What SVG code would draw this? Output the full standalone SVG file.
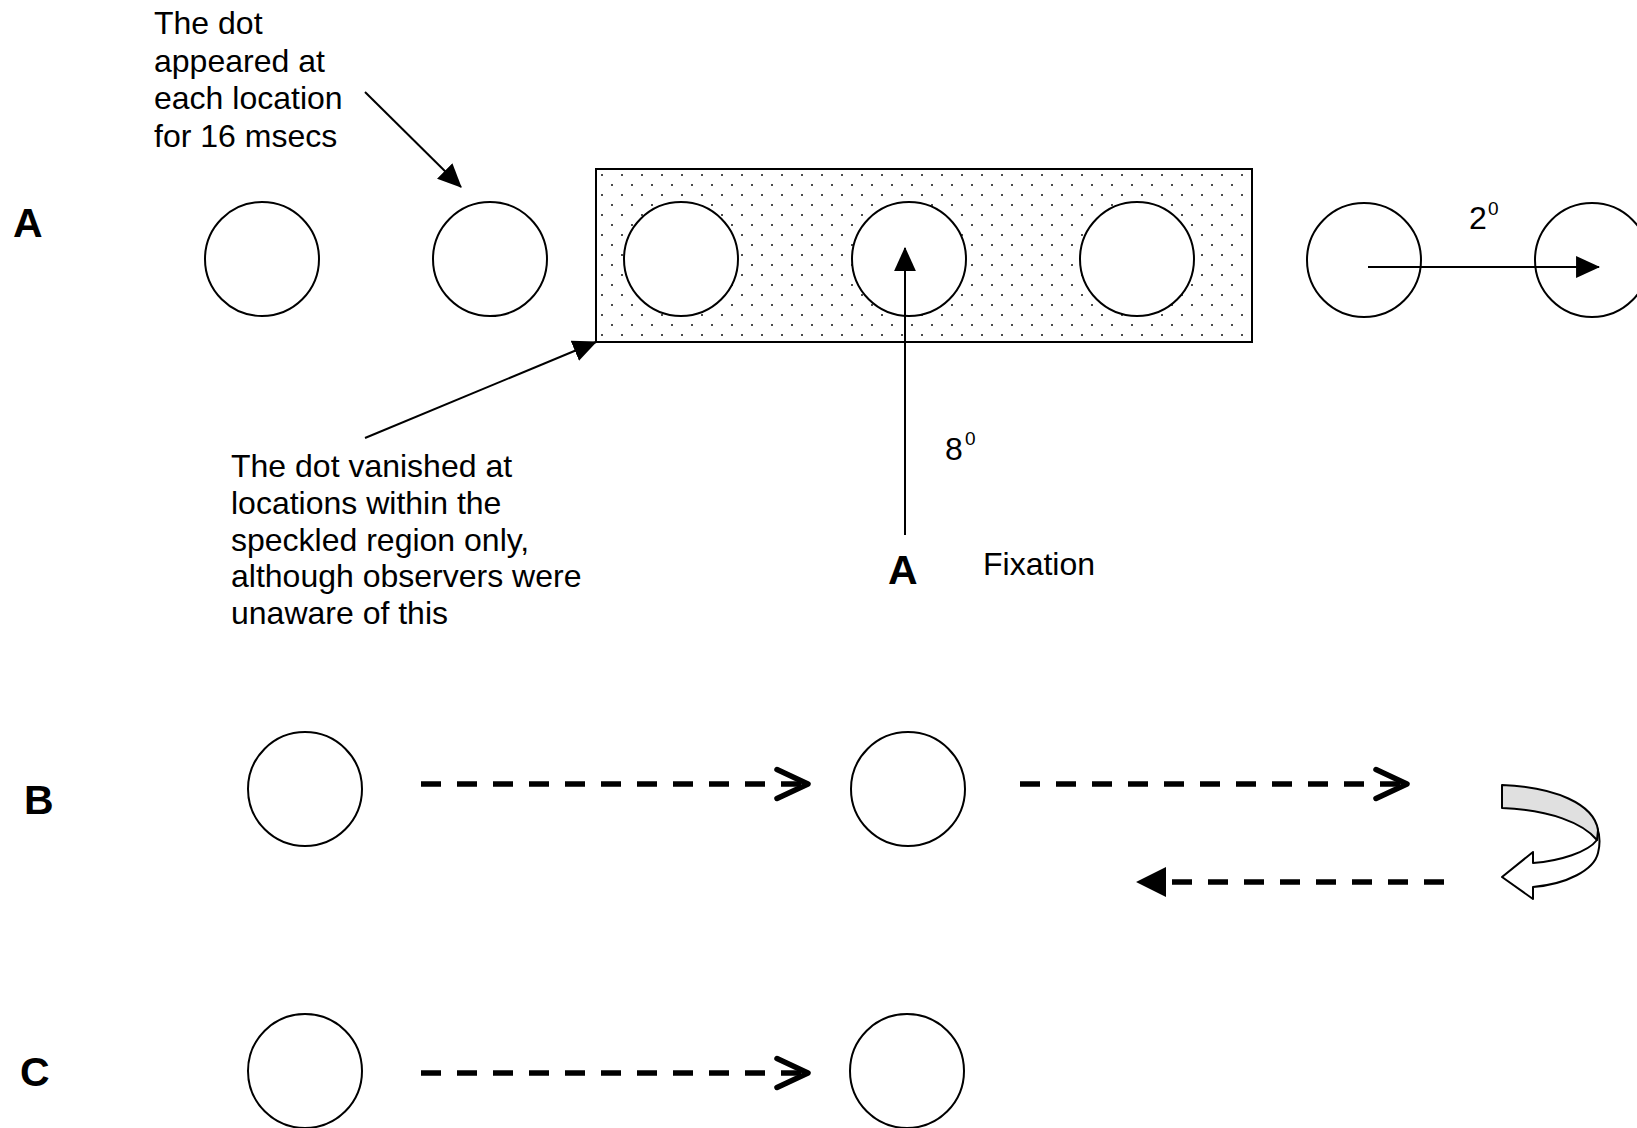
<svg xmlns="http://www.w3.org/2000/svg" width="1637" height="1128" viewBox="0 0 1637 1128">
<style>
text{font-family:"Liberation Sans",Arial,sans-serif;fill:#000}
.t{font-size:32px}
.lbl{font-size:41px;font-weight:bold}
.sup{font-size:19px}
.c{fill:#fff;stroke:#000;stroke-width:2}
.ln{fill:none;stroke:#000;stroke-width:2}
.dash{fill:none;stroke:#000;stroke-width:5.5;stroke-dasharray:20 16}
</style>
<defs>
<pattern id="speck" patternUnits="userSpaceOnUse" x="596" y="169" width="20" height="20">
<circle cx="6" cy="6" r="1" fill="#111"/>
<circle cx="16" cy="16" r="1" fill="#111"/>
</pattern>
<marker id="tri" markerUnits="userSpaceOnUse" markerWidth="24" markerHeight="22" viewBox="0 0 22 20" refX="21" refY="10" orient="auto">
<path d="M0,0 L22,10 L0,20 Z" fill="#000"/>
</marker>
<marker id="chev" markerUnits="userSpaceOnUse" markerWidth="40" markerHeight="40" viewBox="-5 -5 40 40" refX="31" refY="14.5" orient="auto" overflow="visible">
<path d="M0,0 L31,14.5 L0,29" fill="none" stroke="#000" stroke-width="5.5" stroke-linecap="round" stroke-linejoin="round" stroke-dasharray="none"/>
</marker>
<marker id="bigtri" markerUnits="userSpaceOnUse" markerWidth="30" markerHeight="30" viewBox="0 0 29 29" refX="1" refY="14.5" orient="auto">
<path d="M0,0 L29,14.5 L0,29 Z" fill="#000"/>
</marker>
</defs>
<rect width="1637" height="1128" fill="#fff"/>

<g id="labels">
<text class="lbl" x="13" y="237">A</text>
<text class="lbl" x="24" y="814">B</text>
<text class="lbl" x="20" y="1086">C</text>
</g>

<g id="note-appeared">
<text class="t" x="154" y="34">The dot</text>
<text class="t" x="154" y="71.5">appeared at</text>
<text class="t" x="154" y="109">each location</text>
<text class="t" x="154" y="146.5">for 16 msecs</text>
</g>

<g id="note-vanished">
<text class="t" x="231" y="477">The dot vanished at</text>
<text class="t" x="231" y="514">locations within the</text>
<text class="t" x="231" y="551">speckled region only,</text>
<text class="t" x="231" y="587">although observers were</text>
<text class="t" x="231" y="624">unaware of this</text>
</g>

<g id="speckled-region">
<rect x="596" y="169" width="656" height="173" fill="#fff"/>
<rect x="596" y="169" width="656" height="173" fill="url(#speck)" stroke="#000" stroke-width="2"/>
</g>

<g id="row-a">
<circle id="a1" class="c" cx="262" cy="259" r="57"/>
<circle id="a2" class="c" cx="490" cy="259" r="57"/>
<circle id="a3" class="c" cx="681" cy="259" r="57"/>
<circle id="a4" class="c" cx="909" cy="259" r="57"/>
<circle id="a5" class="c" cx="1137" cy="259" r="57"/>
<circle id="a6" class="c" cx="1364" cy="260" r="57"/>
<circle id="a7" class="c" cx="1592" cy="260" r="57"/>
</g>

<g id="row-b">
<circle id="b1" class="c" cx="305" cy="789" r="57"/>
<circle id="b2" class="c" cx="908" cy="789" r="57"/>
</g>

<g id="row-c">
<circle id="c1" class="c" cx="305" cy="1071" r="57"/>
<circle id="c2" class="c" cx="907" cy="1071" r="57"/>
</g>

<g id="fixation">
<text class="lbl" x="888" y="584">A</text>
<text class="t" x="983" y="575">Fixation</text>
</g>

<g id="measures">
<text class="t" x="1469" y="229">2</text>
<text class="sup" x="1488" y="215">0</text>
<text class="t" x="945" y="460">8</text>
<text class="sup" x="965" y="445">0</text>
</g>

<g id="uturn">
<path d="M1597,827 C1600,835 1600,845 1598,853 C1594,870 1567,884 1533,887 L1533,899 L1502,877 L1533,852 L1533,863 C1560,861 1588,852 1597,840 Z" fill="#fff" stroke="#000" stroke-width="2" stroke-linejoin="round"/>
<path d="M1502,785 C1555,787 1594,804 1598,830 L1597,840 C1583,823 1550,810 1502,808 Z" fill="#e0e0e0" stroke="#000" stroke-width="2" stroke-linejoin="round"/>
</g>

<g id="connectors">
<line class="ln" x1="365" y1="92" x2="461" y2="187" marker-end="url(#tri)"/>
<line class="ln" x1="365" y1="438" x2="596" y2="342" marker-end="url(#tri)"/>
<line class="ln" x1="905" y1="535" x2="905" y2="248" marker-end="url(#tri)"/>
<line class="ln" x1="1368" y1="267" x2="1599" y2="267" marker-end="url(#tri)"/>
<path class="dash" d="M421,784 L808,784" marker-end="url(#chev)"/>
<path class="dash" d="M1020,784 L1407,784" marker-end="url(#chev)"/>
<path class="dash" d="M1444,882 L1165,882" marker-end="url(#bigtri)"/>
<path class="dash" d="M421,1073 L808,1073" marker-end="url(#chev)"/>
</g>
</svg>
